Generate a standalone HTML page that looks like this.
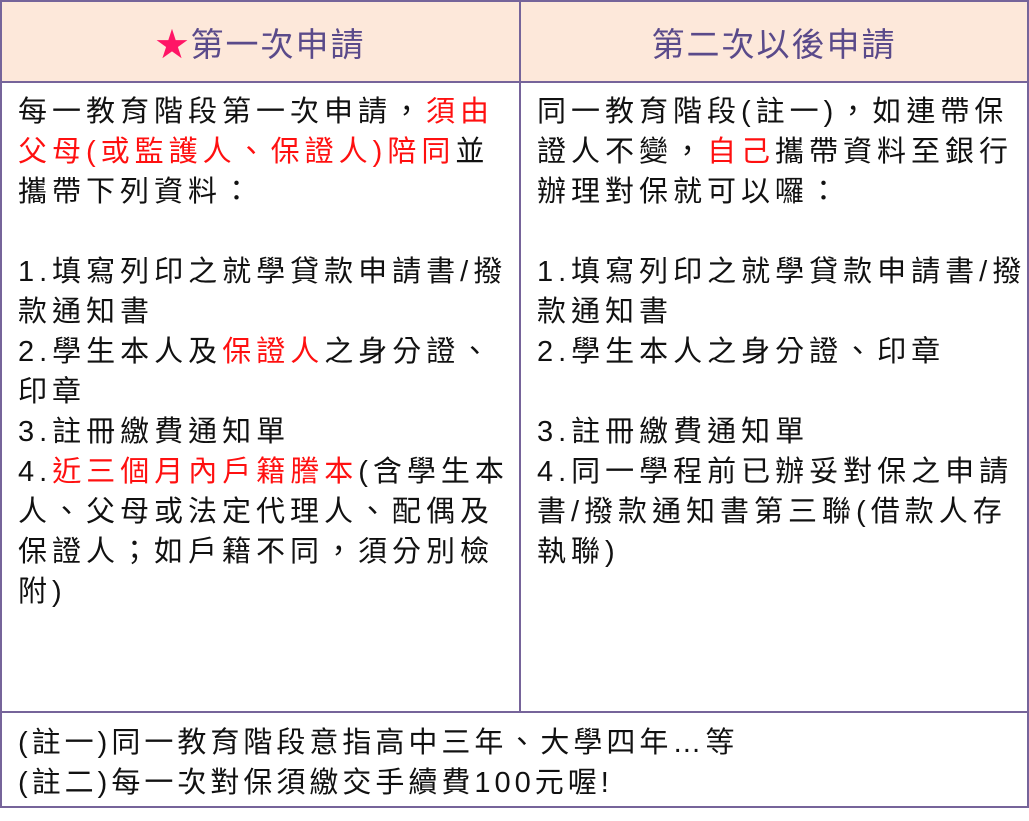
<!DOCTYPE html>
<html><head><meta charset="utf-8"><style>
html,body{margin:0;padding:0;background:#fff;width:1029px;height:821px;overflow:hidden}
body{font-family:"Liberation Sans","Noto Sans CJK TC",sans-serif;color:#111}
.b{position:absolute;background:#76649a}
.cell{position:absolute;font-size:29px;line-height:40px;letter-spacing:5px;white-space:nowrap}
.r{color:#ff1010}
.h{position:absolute;top:2px;height:79px;background:#fde8da;display:flex;align-items:center;justify-content:center;font-size:33px;color:#5a4a8a;letter-spacing:2px}
</style></head><body>
<div class="h" style="left:2px;width:517px"><span style="color:#ff1566">★</span>第一次申請</div>
<div class="h" style="left:521px;width:506px">第二次以後申請</div>
<div class="b" style="left:0;top:0;width:1029px;height:2px"></div>
<div class="b" style="left:0;top:81px;width:1029px;height:2px"></div>
<div class="b" style="left:0;top:711px;width:1029px;height:2px"></div>
<div class="b" style="left:0;top:806px;width:1029px;height:2px"></div>
<div class="b" style="left:0;top:0;width:2px;height:808px"></div>
<div class="b" style="left:1027px;top:0;width:2px;height:808px"></div>
<div class="b" style="left:519px;top:0;width:2px;height:712px"></div>
<div class="cell" style="left:18px;top:92px">每一教育階段第一次申請，<span class="r">須由</span><br><span class="r">父母(或監護人、保證人)陪同</span>並<br>攜帶下列資料：<br>&nbsp;<br>1.填寫列印之就學貸款申請書/撥<br>款通知書<br>2.學生本人及<span class="r">保證人</span>之身分證、<br>印章<br>3.註冊繳費通知單<br>4.<span class="r">近三個月內戶籍謄本</span>(含學生本<br>人、父母或法定代理人、配偶及<br>保證人；如戶籍不同，須分別檢<br>附)</div>
<div class="cell" style="left:537px;top:92px">同一教育階段(註一)，如連帶保<br>證人不變，<span class="r">自己</span>攜帶資料至銀行<br>辦理對保就可以囉：<br>&nbsp;<br>1.填寫列印之就學貸款申請書/撥<br>款通知書<br>2.學生本人之身分證、印章<br>&nbsp;<br>3.註冊繳費通知單<br>4.同一學程前已辦妥對保之申請<br>書/撥款通知書第三聯(借款人存<br>執聯)</div>
<div class="cell" style="left:18px;top:723px;letter-spacing:4px">(註一)同一教育階段意指高中三年、大學四年…等<br>(註二)每一次對保須繳交手續費100元喔!</div>
</body></html>
